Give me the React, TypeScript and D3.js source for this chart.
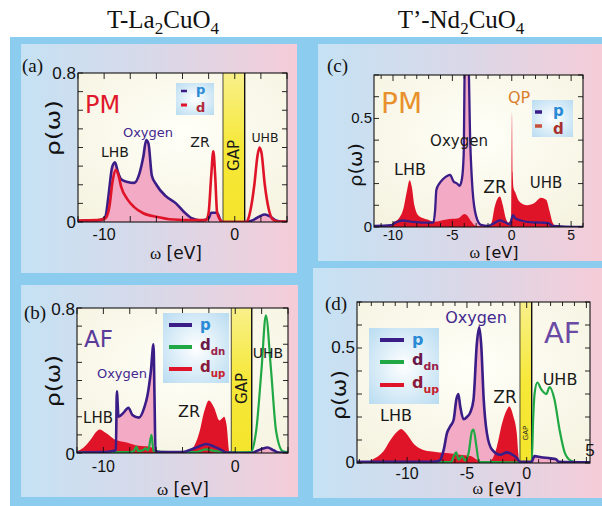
import React from "react";
import * as d3 from "d3";

type Pt = [number, number];

// ---- T-La2CuO4, paramagnetic (a) ----
const laPmP: Pt[] = [[-12, 0.005], [-11, 0.008], [-10.3, 0.01], [-9.9, 0.03], [-9.65, 0.15], [-9.4, 0.29], [-9.17, 0.32], [-8.95, 0.27], [-8.7, 0.23], [-8.2, 0.215], [-7.7, 0.21], [-7.3, 0.26], [-7.0, 0.35], [-6.78, 0.44], [-6.6, 0.42], [-6.35, 0.25], [-6.0, 0.2], [-5.3, 0.14], [-4.5, 0.1], [-3.9, 0.055], [-3.3, 0.02], [-2.6, 0.008], [-2.0, 0.02], [-1.8, 0.05], [-1.35, 0.05], [-1.1, 0.01], [-0.9, 0], [0.8, 0], [1.4, 0.01], [1.9, 0.03], [2.3, 0.04], [2.7, 0.03], [3.1, 0.01], [3.5, 0.002], [4, 0]];
const laPmD: Pt[] = [[-12, 0.008], [-10.5, 0.01], [-9.9, 0.02], [-9.6, 0.08], [-9.35, 0.22], [-9.1, 0.28], [-8.9, 0.25], [-8.7, 0.19], [-8.2, 0.12], [-7.7, 0.08], [-7.0, 0.047], [-5.9, 0.027], [-5.0, 0.015], [-3.0, 0.01], [-2.2, 0.01], [-2.0, 0.05], [-1.8, 0.25], [-1.64, 0.38], [-1.5, 0.25], [-1.35, 0.05], [-1.1, 0.01], [-0.9, 0], [0.9, 0], [1.0, 0.01], [1.25, 0.08], [1.5, 0.2], [1.75, 0.36], [1.9, 0.4], [2.05, 0.37], [2.3, 0.2], [2.6, 0.07], [2.9, 0.015], [3.3, 0.003], [4, 0.003]];

// ---- T-La2CuO4, antiferromagnetic (b) ----
const laAfP: Pt[] = [[-12, 0.003], [-10, 0.005], [-9.4, 0.01], [-9.05, 0.015], [-8.98, 0.34], [-8.85, 0.2], [-8.5, 0.22], [-8.1, 0.25], [-7.8, 0.21], [-7.3, 0.195], [-6.9, 0.25], [-6.65, 0.32], [-6.4, 0.45], [-6.2, 0.6], [-6.12, 0.3], [-6.05, 0.01], [-5.5, 0.005], [-4.0, 0.005], [-3.5, 0.015], [-2.8, 0.035], [-2.2, 0.05], [-1.6, 0.035], [-1.0, 0.015], [-0.7, 0.003], [1.25, 0], [1.6, 0.01], [2.1, 0.025], [2.45, 0.03], [2.9, 0.015], [3.3, 0.003], [4, 0]];
const laAfDup: Pt[] = [[-12, 0.01], [-11.5, 0.03], [-11.0, 0.07], [-10.5, 0.12], [-10.3, 0.13], [-9.8, 0.11], [-9.15, 0.075], [-8.3, 0.06], [-7.3, 0.04], [-6.5, 0.035], [-6.1, 0.02], [-5.8, 0.005], [-5.0, 0], [-3.8, 0.003], [-3.2, 0.03], [-2.7, 0.12], [-2.35, 0.23], [-2.0, 0.29], [-1.6, 0.25], [-1.2, 0.18], [-1.0, 0.19], [-0.85, 0.2], [-0.65, 0.15], [-0.45, 0.01], [-0.3, 0], [4, 0]];
const laAfDdn: Pt[] = [[-12, 0.003], [-8, 0.005], [-7.7, 0.01], [-7.5, 0.035], [-7.35, 0.01], [-7.0, 0.015], [-6.8, 0.025], [-6.6, 0.015], [-6.35, 0.1], [-6.2, 0.01], [-5, 0.005], [-3, 0.005], [-2.2, 0.02], [-1.5, 0.01], [-0.5, 0.003], [1.2, 0.005], [1.45, 0.06], [1.6, 0.13], [2.0, 0.47], [2.32, 0.76], [2.7, 0.47], [3.1, 0.12], [3.6, 0.01], [4, 0.005]];

// ---- T'-Nd2CuO4, paramagnetic (c) ----
const ndPmP: Pt[] = [[-11.6, 0.005], [-10.2, 0.008], [-9.8, 0.02], [-9.2, 0.03], [-8.5, 0.025], [-7.5, 0.02], [-6.6, 0.02], [-6.45, 0.08], [-6.35, 0.17], [-6.1, 0.2], [-5.8, 0.22], [-5.45, 0.235], [-5.2, 0.24], [-4.9, 0.21], [-4.6, 0.2], [-4.4, 0.19], [-4.2, 0.22], [-4.05, 0.33], [-3.95, 0.75], [-3.65, 0.75], [-3.5, 0.4], [-3.3, 0.17], [-3.0, 0.05], [-2.6, 0.01], [-2.0, 0.005], [-1.4, 0.02], [-1.0, 0.03], [-0.5, 0.02], [-0.15, 0.012], [0.0, 0.04], [0.1, 0.055], [0.3, 0.04], [0.8, 0.03], [1.5, 0.022], [2.5, 0.02], [3.1, 0.018], [3.4, 0.005], [6, 0]];
const ndPmD: Pt[] = [[-11.6, 0], [-10.3, 0.005], [-10.0, 0.02], [-9.5, 0.04], [-9.1, 0.09], [-8.85, 0.16], [-8.6, 0.215], [-8.4, 0.18], [-8.2, 0.1], [-7.8, 0.05], [-7.1, 0.035], [-6.5, 0.025], [-5.5, 0.035], [-4.5, 0.04], [-4.0, 0.06], [-3.7, 0.05], [-3.4, 0.025], [-3.0, 0.005], [-2.0, 0.003], [-1.7, 0.02], [-1.45, 0.09], [-1.2, 0.13], [-1.0, 0.14], [-0.75, 0.1], [-0.5, 0.04], [-0.3, 0.02], [-0.05, 0.04], [0.02, 0.53], [0.08, 0.25], [0.15, 0.18], [0.3, 0.16], [0.6, 0.12], [1.3, 0.1], [1.9, 0.11], [2.45, 0.135], [2.9, 0.125], [3.2, 0.07], [3.45, 0.02], [3.8, 0.002], [6, 0]];

// ---- T'-Nd2CuO4, antiferromagnetic (d) ----
const ndAfP: Pt[] = [[-14.2, 0.005], [-8, 0.005], [-7.3, 0.01], [-6.94, 0.058], [-6.67, 0.13], [-6.4, 0.159], [-6.11, 0.188], [-5.89, 0.275], [-5.72, 0.3], [-5.56, 0.246], [-5.28, 0.19], [-5.0, 0.2], [-4.72, 0.22], [-4.45, 0.275], [-4.17, 0.52], [-3.97, 0.59], [-3.8, 0.51], [-3.6, 0.28], [-3.33, 0.13], [-2.9, 0.058], [-2.2, 0.036], [-1.67, 0.046], [-1.3, 0.04], [-0.8, 0.02], [-0.56, 0.005], [0.42, 0.005], [0.65, 0.03], [1.2, 0.025], [2.0, 0.02], [2.45, 0.016], [2.7, 0.005], [5.3, 0.003]];
const ndAfDup: Pt[] = [[-14.2, 0], [-13.4, 0.002], [-12.9, 0.015], [-12.0, 0.05], [-11.4, 0.1], [-10.8, 0.138], [-10.5, 0.148], [-10.1, 0.13], [-9.4, 0.08], [-8.7, 0.058], [-7.9, 0.05], [-6.7, 0.043], [-5.6, 0.036], [-4.7, 0.03], [-4.2, 0.015], [-3.6, 0.002], [-3.1, 0.005], [-2.9, 0.015], [-2.5, 0.07], [-2.05, 0.174], [-1.67, 0.23], [-1.45, 0.246], [-1.1, 0.2], [-0.83, 0.13], [-0.7, 0.04], [-0.6, 0], [5.3, 0]];
const ndAfDdn: Pt[] = [[-14.2, 0.003], [-6.3, 0.005], [-6.1, 0.03], [-5.9, 0.046], [-5.7, 0.015], [-5.4, 0.03], [-5.15, 0.01], [-4.86, 0.043], [-4.58, 0.138], [-4.45, 0.145], [-4.2, 0.07], [-4.0, 0.005], [-0.56, 0.003], [0.42, 0.003], [0.55, 0.2], [0.66, 0.3], [0.89, 0.35], [1.22, 0.32], [1.64, 0.3], [1.92, 0.33], [2.33, 0.275], [2.75, 0.145], [3.2, 0.043], [3.7, 0.01], [4.2, 0.003], [5.3, 0.003]];

// axis tick labels
const laXLabels = [-10, 0];
const laYLabels = [0, 0.8];
const ndPmXLabels = [-10, -5, 0, 5];
const ndAfXLabels = [-10, -5, 0];
const ndYLabels = [0, 0.5];

const PURPLE = "#3a1d86";
const RED = "#e01428";
const GREEN = "#1fa844";
const PINK = "#f3aac5";
const SANS = "'DejaVu Sans', sans-serif";
const NUM = "'Liberation Sans', Arial, sans-serif";
const SERIF = "'Liberation Serif', 'Times New Roman', serif";

type Series = { data: Pt[]; fill?: string; stroke?: string; width?: number };
type Note = { text: string; x: number; y: number; size: number; color?: string; anchor?: string };

type PanelCfg = {
  id: string;
  left: number; right: number; top: number; bottom: number;
  xDomain: [number, number]; yDomain: [number, number];
  xStep: number; xMajor: number;
  xLabels: number[]; yLabels: number[];
  numSize: number; xLabelDy: number; yLabelDy: number;
  gap?: [number, number]; gapFont?: number;
  series: Series[];
};

function Panel({ c }: { c: PanelCfg }) {
  const x = d3.scaleLinear().domain(c.xDomain).range([c.left, c.right]);
  const y = d3.scaleLinear().domain(c.yDomain).range([c.bottom, c.top]);
  const line = d3.line<Pt>().x((d) => x(d[0])).y((d) => y(d[1])).curve(d3.curveMonotoneX);
  const area = d3.area<Pt>().x((d) => x(d[0])).y0(y(0)).y1((d) => y(d[1])).curve(d3.curveMonotoneX);
  const xt = d3.range(Math.ceil(c.xDomain[0] / c.xStep) * c.xStep, c.xDomain[1] + 1e-9, c.xStep);
  const yt = d3.range(0, c.yDomain[1] + 1e-9, 0.1);
  const clip = `clip-${c.id}`;
  return (
    <g>
      <defs>
        <clipPath id={clip}>
          <rect x={c.left} y={c.top} width={c.right - c.left} height={c.bottom - c.top} />
        </clipPath>
      </defs>
      <rect x={c.left} y={c.top} width={c.right - c.left} height={c.bottom - c.top} fill="url(#plotBg)" />
      {c.gap && (
        <g>
          <rect x={x(c.gap[0])} y={c.top} width={x(c.gap[1]) - x(c.gap[0])} height={c.bottom - c.top} fill="url(#gapFill)" />
          <line x1={x(c.gap[0])} x2={x(c.gap[0])} y1={c.top} y2={c.bottom} stroke="#222" strokeWidth={0.8} />
          <line x1={x(c.gap[1])} x2={x(c.gap[1])} y1={c.top} y2={c.bottom} stroke="#111" strokeWidth={1.4} />
          <text
            transform={`translate(${(x(c.gap[0]) + x(c.gap[1])) / 2 + (c.gapFont ?? 15) * 0.36},${c.id === "d" ? 433 : (c.top + c.bottom) / 2 + 8}) rotate(-90)`}
            textAnchor="middle" fontFamily={SANS} fontSize={c.gapFont ?? 15} fill="#1a1a1a"
          >GAP</text>
        </g>
      )}
      <g clipPath={`url(#${clip})`}>
        {c.series.map((s, i) =>
          s.fill ? <path key={"f" + i} d={area(s.data) ?? ""} fill={s.fill} /> : null
        )}
        {c.series.map((s, i) =>
          s.stroke ? (
            <path key={"l" + i} d={line(s.data) ?? ""} fill="none" stroke={s.stroke} strokeWidth={s.width ?? 2.4} strokeLinejoin="round" />
          ) : null
        )}
      </g>
      <rect x={c.left} y={c.top} width={c.right - c.left} height={c.bottom - c.top} fill="none" stroke="#111" strokeWidth={1.1} />
      {xt.map((v) => {
        const len = Math.abs(v % c.xMajor) < 1e-6 ? 6 : 4;
        return (
          <g key={"xt" + v} stroke="#111" strokeWidth={0.9}>
            <line x1={x(v)} x2={x(v)} y1={c.bottom} y2={c.bottom - len} />
            <line x1={x(v)} x2={x(v)} y1={c.top} y2={c.top + len} />
          </g>
        );
      })}
      {yt.map((v) => (
        <g key={"yt" + v} stroke="#111" strokeWidth={0.9}>
          <line x1={c.left} x2={c.left + 5} y1={y(v)} y2={y(v)} />
          <line x1={c.right} x2={c.right - 5} y1={y(v)} y2={y(v)} />
        </g>
      ))}
      {c.xLabels.map((v) => (
        <text key={"xl" + v} x={x(v)} y={c.bottom + c.xLabelDy} textAnchor="middle" fontFamily={NUM} fontSize={c.numSize} fill="#111">
          {v}
        </text>
      ))}
      {c.yLabels.map((v) => (
        <text key={"yl" + v} x={c.left - 2} y={y(v) + c.yLabelDy} textAnchor="end" fontFamily={NUM} fontSize={c.numSize + 1} fill="#111">
          {v}
        </text>
      ))}
    </g>
  );
}

const panels: PanelCfg[] = [
  {
    id: "a", left: 78, right: 287, top: 73, bottom: 222,
    xDomain: [-12, 4], yDomain: [0, 0.8], xStep: 2, xMajor: 2,
    xLabels: laXLabels, yLabels: laYLabels, numSize: 16, xLabelDy: 18, yLabelDy: 6,
    gap: [-0.9, 0.76], gapFont: 15,
    series: [
      { data: laPmP, fill: PINK, stroke: PURPLE, width: 2.6 },
      { data: laPmD, stroke: RED, width: 2.6 },
    ],
  },
  {
    id: "b", left: 77, right: 288, top: 308, bottom: 453,
    xDomain: [-12, 4], yDomain: [0, 0.8], xStep: 2, xMajor: 2,
    xLabels: laXLabels, yLabels: laYLabels, numSize: 16, xLabelDy: 19, yLabelDy: 7,
    gap: [-0.3, 1.25], gapFont: 15,
    series: [
      { data: laAfP, fill: PINK },
      { data: laAfDup, fill: RED },
      { data: laAfDdn, stroke: GREEN, width: 2.2 },
      { data: laAfP, stroke: PURPLE, width: 2.6 },
    ],
  },
  {
    id: "c", left: 374, right: 583, top: 75, bottom: 227,
    xDomain: [-11.6, 6.0], yDomain: [0, 0.7], xStep: 1, xMajor: 5,
    xLabels: ndPmXLabels, yLabels: ndYLabels, numSize: 14, xLabelDy: 13, yLabelDy: 5,
    series: [
      { data: ndPmP, fill: PINK },
      { data: ndPmD, fill: RED },
      { data: ndPmP, stroke: PURPLE, width: 2.3 },
    ],
  },
  {
    id: "d", left: 357, right: 590, top: 302, bottom: 463,
    xDomain: [-14.2, 5.3], yDomain: [0, 0.7], xStep: 1, xMajor: 5,
    xLabels: ndAfXLabels, yLabels: ndYLabels, numSize: 16, xLabelDy: 16, yLabelDy: 5,
    gap: [-0.56, 0.42], gapFont: 7,
    series: [
      { data: ndAfP, fill: PINK },
      { data: ndAfDup, fill: RED },
      { data: ndAfDdn, stroke: GREEN, width: 2.2 },
      { data: ndAfP, stroke: PURPLE, width: 2.6 },
    ],
  },
];

const notes: Note[] = [
  // (a)
  { text: "PM", x: 85, y: 113, size: 24, color: "#e0182c" },
  { text: "LHB", x: 115, y: 157, size: 14, anchor: "middle" },
  { text: "Oxygen", x: 148, y: 137, size: 13, color: "#432890", anchor: "middle" },
  { text: "ZR", x: 200, y: 147, size: 14, anchor: "middle" },
  { text: "UHB", x: 265, y: 142, size: 12.5, anchor: "middle" },
  // (b)
  { text: "AF", x: 84, y: 347, size: 23, color: "#5b3c9a" },
  { text: "Oxygen", x: 122, y: 378, size: 13, color: "#432890", anchor: "middle" },
  { text: "LHB", x: 98, y: 423, size: 15, anchor: "middle" },
  { text: "ZR", x: 189, y: 417, size: 16, anchor: "middle" },
  { text: "UHB", x: 268, y: 358, size: 14, anchor: "middle" },
  // (c)
  { text: "PM", x: 381, y: 113, size: 28, color: "#e8902c" },
  { text: "QP", x: 519, y: 103, size: 16, color: "#d9802c", anchor: "middle" },
  { text: "Oxygen", x: 459, y: 146, size: 15, anchor: "middle" },
  { text: "LHB", x: 410, y: 175, size: 16, anchor: "middle" },
  { text: "ZR", x: 495, y: 193, size: 17, anchor: "middle" },
  { text: "UHB", x: 546, y: 188, size: 15, anchor: "middle" },
  // (d)
  { text: "Oxygen", x: 476, y: 323, size: 16, color: "#432890", anchor: "middle" },
  { text: "AF", x: 544, y: 343, size: 29, color: "#6a4aa4" },
  { text: "UHB", x: 560, y: 385, size: 16, anchor: "middle" },
  { text: "ZR", x: 505, y: 403, size: 17, anchor: "middle" },
  { text: "LHB", x: 396, y: 421, size: 16, anchor: "middle" },
];

function Sub({ base, sub, x, y, size, color, subColor }: { base: string; sub: string; x: number; y: number; size: number; color: string; subColor: string }) {
  return (
    <text x={x} y={y} fontFamily={SANS} fontWeight="bold" fontSize={size} fill={color}>
      {base}
      <tspan dy={size * 0.3} fontSize={size * 0.68} fill={subColor}>{sub}</tspan>
    </text>
  );
}

export default function App() {
  return (
    <svg width={602} height={506} viewBox="0 0 602 506" style={{ position: "absolute", left: 0, top: 0 }}>
      <defs>
        <linearGradient id="panelBg" x1="0" x2="1" y1="0" y2="0">
          <stop offset="0" stopColor="#c5e2f4" />
          <stop offset="0.5" stopColor="#d9d8e8" />
          <stop offset="1" stopColor="#f5ccd8" />
        </linearGradient>
        <radialGradient id="plotBg" cx="0.5" cy="0.4" r="0.75">
          <stop offset="0" stopColor="#fffff8" />
          <stop offset="1" stopColor="#f5f2df" />
        </radialGradient>
        <linearGradient id="gapFill" x1="0" x2="0" y1="0" y2="1">
          <stop offset="0" stopColor="#f8f08a" />
          <stop offset="0.5" stopColor="#f6e838" />
          <stop offset="1" stopColor="#f4e42c" />
        </linearGradient>
        <radialGradient id="legendBg" cx="0.5" cy="0.5" r="0.7">
          <stop offset="0" stopColor="#ffffff" />
          <stop offset="1" stopColor="#b9dcf1" />
        </radialGradient>
      </defs>

      <rect x={0} y={0} width={602} height={506} fill="#ffffff" />
      <rect x={10} y={37} width={592} height={469} fill="#8ccdef" />
      <rect x={21} y={44} width={276} height={229} fill="url(#panelBg)" />
      <rect x={21} y={285} width={277} height={212} fill="url(#panelBg)" />
      <rect x={318} y={44} width={284} height={217} fill="url(#panelBg)" />
      <rect x={313} y={268} width={289} height={230} fill="url(#panelBg)" />

      {/* compound titles */}
      <text x={163} y={28} textAnchor="middle" fontFamily={SERIF} fontSize={25} fill="#111">
        T-La<tspan dy={6} fontSize={17}>2</tspan><tspan dy={-6}>CuO</tspan><tspan dy={6} fontSize={17}>4</tspan>
      </text>
      <text x={461} y={28} textAnchor="middle" fontFamily={SERIF} fontSize={25} fill="#111">
        T’-Nd<tspan dy={6} fontSize={17}>2</tspan><tspan dy={-6}>CuO</tspan><tspan dy={6} fontSize={17}>4</tspan>
      </text>

      {panels.map((p) => <Panel key={p.id} c={p} />)}

      {/* panel tags */}
      <text x={22} y={72} fontFamily={SERIF} fontSize={19} fill="#111">(a)</text>
      <text x={24} y={319} fontFamily={SERIF} fontSize={19} fill="#111">(b)</text>
      <text x={327} y={72} fontFamily={SERIF} fontSize={19} fill="#111">(c)</text>
      <text x={325} y={310} fontFamily={SERIF} fontSize={19} fill="#111">(d)</text>

      {/* y-axis titles */}
      {[[53, 128, 20, 56], [53, 381, 20, 52], [356, 165, 17, 44], [339, 395, 19, 50]].map(([cx, cy, fs, len], i) => (
        <text key={"ya" + i} transform={`translate(${cx + fs * 0.35},${cy}) rotate(-90)`} textAnchor="middle"
          fontFamily={SANS} fontSize={fs} fill="#111" textLength={len} lengthAdjust="spacingAndGlyphs">ρ(ω)</text>
      ))}

      {/* x-axis titles */}
      {[[176, 259, 17], [183, 495, 17], [494, 258, 16], [497, 494, 16]].map(([cx, cy, fs], i) => (
        <text key={"xa" + i} x={cx} y={cy} textAnchor="middle" fontFamily={SANS} fontSize={fs} fill="#111">
          <tspan fontFamily={SERIF}>ω</tspan> [eV]
        </text>
      ))}
      <text x={590} y={456} textAnchor="middle" fontFamily={NUM} fontSize={17} fill="#111">5</text>

      {notes.map((n, i) => (
        <text key={"n" + i} x={n.x} y={n.y} textAnchor={n.anchor ?? "start"} fontFamily={SANS} fontSize={n.size} fill={n.color ?? "#1a1a1a"}>
          {n.text}
        </text>
      ))}

      {/* legend (a) */}
      <rect x={176} y={83} width={38} height={32} fill="url(#legendBg)" />
      <line x1={181} x2={187} y1={91} y2={91} stroke={PURPLE} strokeWidth={2.5} />
      <line x1={181} x2={187} y1={105} y2={105} stroke={RED} strokeWidth={3} />
      <text x={196} y={94} fontFamily={SANS} fontWeight="bold" fontSize={13} fill="#2a8ad6">p</text>
      <text x={196} y={112} fontFamily={SANS} fontWeight="bold" fontSize={13} fill="#b02a3a">d</text>

      {/* legend (c) */}
      <rect x={532} y={100} width={41} height={37} fill="url(#legendBg)" />
      <line x1={535} x2={542} y1={112} y2={112} stroke={PURPLE} strokeWidth={3.5} />
      <line x1={535} x2={542} y1={126} y2={126} stroke="#c8503a" strokeWidth={3.5} />
      <text x={553} y={116} fontFamily={SANS} fontWeight="bold" fontSize={15} fill="#2a8ad6">p</text>
      <text x={553} y={134} fontFamily={SANS} fontWeight="bold" fontSize={15} fill="#a8302c">d</text>

      {/* legend (b) */}
      <rect x={163} y={313} width={66} height={70} fill="url(#legendBg)" />
      <line x1={169} x2={192} y1={325} y2={325} stroke={PURPLE} strokeWidth={4} />
      <line x1={169} x2={192} y1={347} y2={347} stroke={GREEN} strokeWidth={4} />
      <line x1={169} x2={192} y1={369} y2={369} stroke={RED} strokeWidth={4} />
      <text x={200} y={330} fontFamily={SANS} fontWeight="bold" fontSize={15} fill="#2a8ad6">p</text>
      <Sub base="d" sub="dn" x={200} y={350} size={15} color="#6a1a4a" subColor="#9a2048" />
      <Sub base="d" sub="up" x={200} y={372} size={15} color="#8a1a3a" subColor="#c8202c" />

      {/* legend (d) */}
      <rect x={369} y={328} width={70} height={76} fill="url(#legendBg)" />
      <line x1={380} x2={404} y1={340} y2={340} stroke={PURPLE} strokeWidth={4} />
      <line x1={380} x2={404} y1={362} y2={362} stroke={GREEN} strokeWidth={4} />
      <line x1={380} x2={404} y1={385} y2={385} stroke={RED} strokeWidth={4} />
      <text x={412} y={345} fontFamily={SANS} fontWeight="bold" fontSize={16} fill="#2a8ad6">p</text>
      <Sub base="d" sub="dn" x={412} y={365} size={16} color="#6a1a4a" subColor="#9a2048" />
      <Sub base="d" sub="up" x={412} y={388} size={16} color="#8a1a3a" subColor="#c8202c" />
    </svg>
  );
}
